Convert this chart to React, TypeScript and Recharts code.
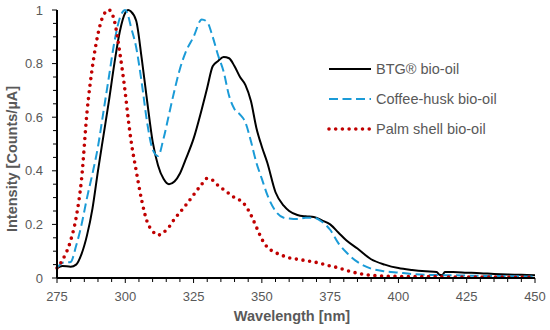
import React from "react";
import { LineChart, Line, XAxis, YAxis } from "recharts";

const wavelengths = [275, 277, 280, 282, 284, 286, 288, 290, 292, 294, 296, 298, 300, 301, 302, 304, 306, 308, 310, 312, 314, 316, 318, 320, 322, 325, 328, 330, 332, 334, 336, 338, 340, 342, 344, 346, 348, 350, 352, 355, 358, 360, 363, 366, 369, 372, 375, 378, 381, 385, 390, 395, 400, 405, 410, 414, 415, 416, 417, 420, 425, 430, 435, 440, 445, 450];

const btg = [0.037, 0.045, 0.042, 0.05, 0.09, 0.16, 0.26, 0.4, 0.53, 0.66, 0.8, 0.92, 0.99, 1.0, 0.995, 0.96, 0.82, 0.66, 0.51, 0.42, 0.37, 0.35, 0.36, 0.39, 0.44, 0.52, 0.63, 0.71, 0.79, 0.81, 0.825, 0.82, 0.79, 0.75, 0.72, 0.66, 0.56, 0.49, 0.43, 0.32, 0.27, 0.25, 0.235, 0.23, 0.228, 0.215, 0.2, 0.17, 0.14, 0.11, 0.07, 0.05, 0.037, 0.03, 0.025, 0.022, 0.012, 0.01, 0.022, 0.022, 0.02, 0.018, 0.015, 0.013, 0.012, 0.01];

const coffee = [0.037, 0.057, 0.06, 0.12, 0.2, 0.3, 0.39, 0.49, 0.62, 0.75, 0.88, 0.97, 1.0, 0.98, 0.94, 0.86, 0.73, 0.58, 0.48, 0.455, 0.52, 0.61, 0.7, 0.78, 0.84, 0.9, 0.965, 0.955, 0.9, 0.83, 0.77, 0.68, 0.63, 0.61, 0.58, 0.51, 0.43, 0.37, 0.31, 0.25, 0.225, 0.222, 0.22, 0.225, 0.225, 0.21, 0.18, 0.13, 0.095, 0.06, 0.035, 0.025, 0.02, 0.015, 0.012, 0.011, 0.011, 0.01, 0.01, 0.01, 0.009, 0.008, 0.007, 0.007, 0.006, 0.006];

const palm = [0.037, 0.067, 0.14, 0.225, 0.37, 0.62, 0.79, 0.91, 0.98, 1.0, 0.96, 0.84, 0.69, 0.6, 0.52, 0.4, 0.29, 0.21, 0.175, 0.16, 0.17, 0.19, 0.22, 0.245, 0.27, 0.31, 0.35, 0.372, 0.365, 0.345, 0.33, 0.315, 0.3, 0.29, 0.27, 0.235, 0.19, 0.145, 0.115, 0.095, 0.082, 0.075, 0.07, 0.065, 0.06, 0.053, 0.045, 0.038, 0.028, 0.018, 0.01, 0.007, 0.006, 0.005, 0.005, 0.005, 0.005, 0.004, 0.004, 0.004, 0.004, 0.004, 0.004, 0.003, 0.003, 0.003];

const seriesNames = ["BTG® bio-oil", "Coffee-husk bio-oil", "Palm shell bio-oil"];

const xTicks = [275, 280, 285, 290, 295, 300, 305, 310, 315, 320, 325, 330, 335, 340, 345, 350, 355, 360, 365, 370, 375, 380, 385, 390, 395, 400, 405, 410, 415, 420, 425, 430, 435, 440, 445, 450];
const xLabelTicks = [275, 300, 325, 350, 375, 400, 425, 450];
const yTicks = [0, 0.05, 0.1, 0.15, 0.2, 0.25, 0.3, 0.35, 0.4, 0.45, 0.5, 0.55, 0.6, 0.65, 0.7, 0.75, 0.8, 0.85, 0.9, 0.95, 1];
const yLabelTicks = ["0", "0.2", "0.4", "0.6", "0.8", "1"];

const data = wavelengths.map((wl, i) => ({ wl, btg: btg[i], coffee: coffee[i], palm: palm[i] }));

const FONT = "'Liberation Sans', Arial, sans-serif";
const GRAY = "#595959";
const BLUE = "#1b9bd7";
const RED = "#c00000";

const styles = [
  { stroke: "#000000", width: 2, dash: undefined as string | undefined, cap: "butt" },
  { stroke: BLUE, width: 2, dash: "9 4.5", cap: "butt" },
  { stroke: RED, width: 3.6, dash: "0 6.7", cap: "round" },
];

const XTick = (props: any) => {
  const { x, y, payload } = props;
  const v = payload.value;
  const major = xLabelTicks.includes(v);
  return (
    <g>
      <line x1={x} x2={x} y1={y} y2={y + (major ? 5 : 4)} stroke="#000" strokeWidth={1} />
      {major && (
        <text x={x} y={y + 23} textAnchor="middle" fill={GRAY} fontSize={13} fontFamily={FONT}>
          {v}
        </text>
      )}
    </g>
  );
};

const YTick = (props: any) => {
  const { x, y, payload } = props;
  const v = payload.value;
  const idx = Math.round(v / 0.2);
  const major = Math.abs(v - idx * 0.2) < 1e-6;
  return (
    <g>
      <line x1={x - (major ? 5 : 4)} x2={x} y1={y} y2={y} stroke="#000" strokeWidth={1} />
      {major && (
        <text x={x - 14} y={y} dy="0.35em" textAnchor="end" fill={GRAY} fontSize={13} fontFamily={FONT}>
          {yLabelTicks[idx]}
        </text>
      )}
    </g>
  );
};

const LegendBox = () => (
  <svg width={220} height={90} style={{ position: "absolute", left: 325, top: 58 }}>
    {seriesNames.map((name, i) => {
      const cy = 11 + i * 30;
      const s = styles[i];
      return (
        <g key={name}>
          <line x1={4} x2={46} y1={cy} y2={cy} stroke={s.stroke} strokeWidth={s.width} strokeDasharray={s.dash} strokeLinecap={s.cap as any} />
          <text x={51} y={cy} dy="0.35em" fill={GRAY} fontSize={14.5} fontFamily={FONT}>
            {name}
          </text>
        </g>
      );
    })}
  </svg>
);

export default function App() {
  return (
    <div style={{ position: "absolute", left: 0, top: 0, width: 550, height: 330, background: "#fff" }}>
      <LineChart width={550} height={330} data={data} margin={{ top: 10, right: 15, bottom: 0, left: 10 }}>
        <XAxis
          dataKey="wl"
          type="number"
          domain={[275, 450]}
          ticks={xTicks}
          interval={0}
          height={52}
          tickSize={0}
          tickMargin={0}
          tickLine={false}
          tick={XTick}
          axisLine={{ stroke: "#000", strokeWidth: 2 }}
        />
        <YAxis
          type="number"
          domain={[0, 1]}
          ticks={yTicks}
          interval={0}
          width={47}
          tickSize={0}
          tickMargin={0}
          tickLine={false}
          tick={YTick}
          axisLine={{ stroke: "#000", strokeWidth: 2 }}
        />
        <Line type="monotone" dataKey="btg" name={seriesNames[0]} stroke="#000" strokeWidth={2} dot={false} isAnimationActive={false} />
        <Line type="monotone" dataKey="coffee" name={seriesNames[1]} stroke={BLUE} strokeWidth={2} strokeDasharray="9 4.5" dot={false} isAnimationActive={false} />
        <Line type="monotone" dataKey="palm" name={seriesNames[2]} stroke={RED} strokeWidth={3.6} strokeDasharray="0 6.7" strokeLinecap="round" dot={false} isAnimationActive={false} />
      </LineChart>
      <svg width={550} height={330} style={{ position: "absolute", left: 0, top: 0, pointerEvents: "none" }}>
        <text x={292} y={321} textAnchor="middle" fill={GRAY} fontSize={14.5} fontWeight="bold" fontFamily={FONT}>
          Wavelength [nm]
        </text>
        <text x={0} y={0} transform="translate(17,159) rotate(-90)" textAnchor="middle" fill={GRAY} fontSize={14.5} fontWeight="bold" fontFamily={FONT}>
          Intensity [Counts/µA]
        </text>
      </svg>
      <LegendBox />
    </div>
  );
}
